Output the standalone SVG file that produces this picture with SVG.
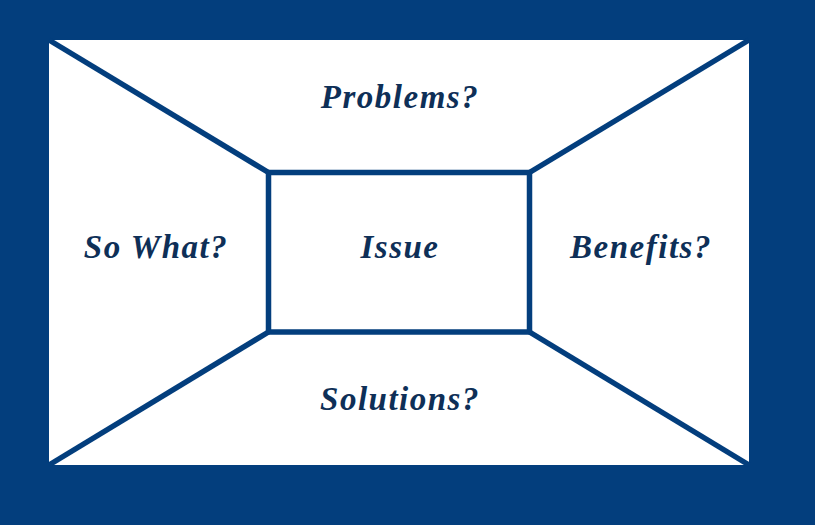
<svg xmlns="http://www.w3.org/2000/svg" width="815" height="525" viewBox="0 0 815 525">
<style>
.ln{stroke:#033e7d;stroke-width:5.5;fill:none;stroke-linecap:butt}
.t{font-family:"Liberation Serif","DejaVu Serif",serif;font-weight:bold;font-style:italic;font-size:33px;letter-spacing:1.5px;fill:#0e2f57;text-anchor:middle}
</style>
<rect x="0" y="0" width="815" height="525" fill="#033e7d"/>
<rect x="49" y="40" width="700" height="425" fill="#ffffff"/>
<g id="connectors">
<line class="ln" x1="49" y1="40" x2="268.5" y2="172.5"/>
<line class="ln" x1="749" y1="40" x2="529.5" y2="172.5"/>
<line class="ln" x1="49" y1="465" x2="268.5" y2="332"/>
<line class="ln" x1="749" y1="465" x2="529.5" y2="332"/>
</g>
<g id="issue">
<rect class="ln" x="268.5" y="172.5" width="261" height="159.5"/>
<text class="t" x="400" y="258">Issue</text>
</g>
<g id="problems"><text class="t" x="400" y="108">Problems?</text></g>
<g id="sowhat"><text class="t" x="156" y="258">So What?</text></g>
<g id="benefits"><text class="t" x="641" y="258">Benefits?</text></g>
<g id="solutions"><text class="t" x="400" y="410">Solutions?</text></g>
</svg>
